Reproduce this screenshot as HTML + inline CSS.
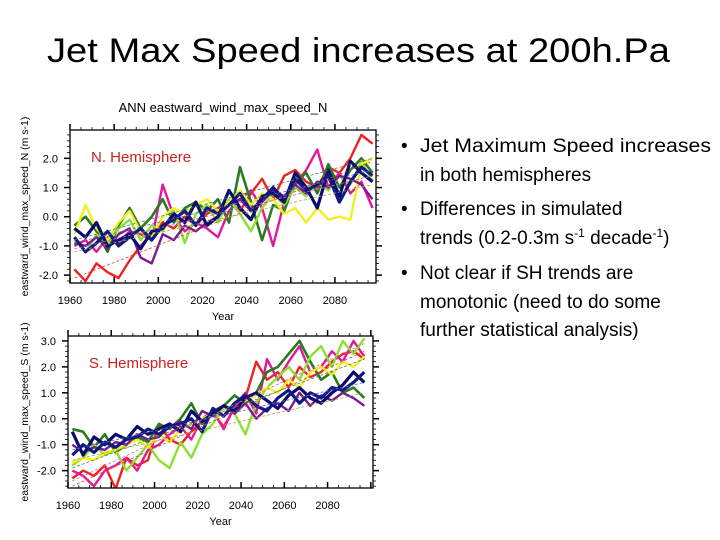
<!DOCTYPE html>
<html><head><meta charset="utf-8"><style>
html,body{margin:0;padding:0;background:#fff;}
svg{display:block;font-family:"Liberation Sans",sans-serif;}
</style></head><body>
<svg id="s" width="720" height="540" viewBox="0 0 720 540">
<text x="47" y="62" font-size="34" textLength="623" lengthAdjust="spacingAndGlyphs">Jet Max Speed increases at 200h.Pa</text>
<text x="223" y="112" font-size="13" text-anchor="middle">ANN eastward_wind_max_speed_N</text>
<g font-size="19" fill="#000">
<text x="401" y="152">•</text>
<text x="420" y="152" textLength="291" lengthAdjust="spacingAndGlyphs">Jet Maximum Speed increases</text>
<text x="420" y="181">in both hemispheres</text>
<text x="401" y="215">•</text>
<text x="420" y="215">Differences in simulated</text>
<text x="420" y="244">trends (0.2-0.3m s<tspan font-size="12" dy="-7">-1</tspan><tspan dy="7"> decade</tspan><tspan font-size="12" dy="-7">-1</tspan><tspan dy="7">)</tspan></text>
<text x="401" y="279">•</text>
<text x="420" y="279">Not clear if SH trends are</text>
<text x="420" y="308">monotonic (need to do some</text>
<text x="420" y="336">further statistical analysis)</text>
</g>
</svg>
<script>
const years=[1962,1967,1972,1977,1982,1987,1992,1997,2002,2007,2012,2017,2022,2027,2032,2037,2042,2047,2052,2057,2062,2067,2072,2077,2082,2087,2092,2097];
const nRed=[-1.8,-2.2,-1.6,-1.9,-2.1,-1.5,-1.0,-0.6,-0.2,-0.4,0.0,-0.3,0.1,0.3,0.5,0.2,0.8,1.3,0.6,1.4,1.6,1.2,1.0,1.7,1.5,2.0,2.8,2.5];
const nMagenta=[-1.0,-0.8,-1.2,-0.7,-0.9,-0.5,-0.6,-0.8,1.1,0.0,-0.5,-0.2,-0.4,-0.7,0.2,0.6,0.9,0.3,-1.0,0.5,1.1,1.6,2.3,1.0,1.5,0.8,1.2,0.3];
const nDarkGreen=[-0.3,0.0,-0.5,-1.2,-0.3,0.3,-0.4,0.0,0.6,-0.2,0.3,0.5,0.2,0.6,-0.2,1.7,0.5,-0.8,0.4,0.2,1.2,1.5,0.8,1.8,1.0,1.6,2.0,1.5];
const nLime=[-0.8,-1.2,-0.6,-0.9,-0.4,-0.1,-0.8,-0.3,-0.5,0.2,-0.9,0.1,0.4,-0.2,0.6,0.1,-0.5,0.3,0.8,0.4,1.0,0.7,1.2,0.9,1.4,1.1,1.9,1.2];
const nYellow=[-0.6,0.4,-0.4,-0.8,-0.2,0.2,-0.5,-0.7,0.0,0.3,0.1,0.4,0.6,0.2,0.5,0.9,0.4,0.8,0.6,0.1,0.3,-0.2,0.3,-0.1,0.0,-0.1,1.8,2.0];
const nPurple=[-0.9,-1.0,-0.7,-1.1,-0.6,-0.4,-1.4,-1.6,-0.6,-0.8,-0.3,-0.5,-0.2,0.0,0.4,0.6,0.2,0.5,0.9,0.7,1.1,0.8,1.2,1.0,1.4,1.3,1.1,0.6];
const nNavy=[-0.4,-0.7,-0.2,-1.0,-0.8,-0.6,-1.1,-0.5,-0.4,0.1,-0.2,0.5,-0.3,0.0,0.9,0.3,-0.1,0.7,0.8,0.5,1.5,1.0,0.3,1.6,0.7,1.9,1.5,1.2];
const nNavy2=[-0.7,-1.2,-0.9,-0.5,-1.0,-0.7,-0.4,-0.8,-0.3,-0.1,0.2,-0.3,0.3,0.1,0.4,0.8,0.2,0.6,1.0,0.6,1.3,0.9,1.1,1.4,0.5,1.2,1.7,1.4];
const nTrendStart=[-2.1,-1.1,-0.8,-1.2,-0.9];
const nTrendEnd=[1.9,1.4,2.0,1.1,1.6];
const sRed=[-2.3,-2.0,-2.2,-1.8,-2.7,-1.5,-1.8,-1.6,-0.2,-0.8,-1.0,-0.5,-0.1,0.2,-0.3,0.4,0.8,2.2,1.5,1.8,1.2,2.0,1.6,1.8,2.2,2.5,2.6,2.3];
const sMagenta=[-2.0,-2.2,-2.6,-2.0,-1.8,-1.5,-2.0,-1.2,-1.0,-0.6,-0.3,-0.8,0.0,0.3,-0.4,0.5,1.0,0.2,2.3,1.5,2.2,2.8,1.8,2.0,2.6,2.2,3.0,2.4];
const sDarkGreen=[-0.4,-0.5,-1.1,-0.6,-1.3,-1.0,-0.7,-0.9,-0.2,-0.4,0.0,0.6,-0.2,0.3,0.5,0.9,0.6,1.0,1.8,2.0,2.5,3.0,2.2,1.5,1.8,1.0,1.2,0.8];
const sLime=[-1.8,-1.5,-1.0,-1.4,-1.2,-2.0,-1.5,-1.0,-1.6,-1.9,-0.9,-1.5,-0.6,-0.2,0.5,0.2,-0.6,0.6,1.2,1.6,2.0,1.5,2.4,2.8,2.0,3.0,2.5,3.1];
const sYellow=[-1.7,-1.5,-1.6,-1.3,-1.2,-1.0,-0.8,-1.1,-0.6,-0.9,-0.4,-0.2,0.0,0.2,0.4,0.3,0.7,0.9,1.2,1.0,1.5,1.2,1.8,2.0,1.7,2.2,2.0,2.4];
const sPurple=[-1.0,-1.3,-1.1,-1.2,-0.9,-1.0,-0.6,-0.8,-0.7,-0.3,-0.1,-0.4,0.3,0.1,0.5,0.2,0.6,0.0,0.4,0.6,0.3,1.0,0.5,0.9,0.7,1.0,0.8,0.5];
const sNavy=[-0.5,-1.4,-0.7,-1.0,-0.6,-0.8,-0.3,-0.6,-0.4,-0.2,-0.5,0.3,-0.1,0.2,0.5,0.3,0.8,1.0,0.7,0.4,0.9,1.2,0.8,0.6,1.0,1.3,1.8,1.4];
const sNavy2=[-1.4,-1.0,-1.3,-0.9,-1.1,-0.8,-0.7,-0.4,-0.6,-0.3,-0.2,0.0,-0.5,0.4,0.1,0.6,0.9,0.5,0.3,0.8,1.1,0.6,1.0,0.8,1.2,1.1,1.4,1.8];
const sTrendStart=[-2.6,-2.4,-1.9,-1.6,-1.2];
const sTrendEnd=[2.6,2.9,2.3,1.0,1.4];
const xTickYears=[1960,1980,2000,2020,2040,2060,2080];
const yTicksN=[-2,-1,0,1,2];
const yTicksS=[-2,-1,0,1,2,3];

const NS='http://www.w3.org/2000/svg';
const svg=document.getElementById('s');
function el(t,a,p){const e=document.createElementNS(NS,t);for(const k in a)e.setAttribute(k,a[k]);(p||svg).appendChild(e);return e;}
const colors=['#ee2222','#e0189a','#2a7a20','#8ee030','#f0f020','#7a1a90','#0a0a70','#101a80'];
const widths=[2.4,2.4,2.6,2.4,2.4,2.4,3.2,3.2];
const trendColors=['#dd4444','#cc66aa','#448844','#aaaa44','#6666aa'];

function chart(cfg){
  const g=el('g',{});
  
  
  const X=y=>cfg.x0+(y-cfg.xmin)/(cfg.xmax-cfg.xmin)*(cfg.x1-cfg.x0);
  const Y=v=>cfg.y1-(v-cfg.ymin)/(cfg.ymax-cfg.ymin)*(cfg.y1-cfg.y0);
  const clip='c'+cfg.name;
  const cp=el('clipPath',{id:clip},g);el('rect',{x:cfg.x0,y:cfg.y0,width:cfg.x1-cfg.x0,height:cfg.y1-cfg.y0},cp);
  const pg=el('g',{'clip-path':'url(#'+clip+')'},g);
  cfg.series.forEach((s,i)=>{
    const d=s.map((v,j)=>(j?'L':'M')+X(years[j]).toFixed(1)+' '+Y(v).toFixed(1)).join('');
    const p=el('path',{d:d,fill:'none',stroke:colors[i],'stroke-width':widths[i],'stroke-linejoin':'round'},pg);
    
    
  });
  cfg.ts.forEach((a,i)=>{
    const l=el('line',{x1:X(1962),y1:Y(a),x2:X(2097),y2:Y(cfg.te[i]),stroke:trendColors[i],'stroke-width':0.8,'stroke-dasharray':'3 2'},pg);
    
    
  });
  const f=el('rect',{x:cfg.x0,y:cfg.y0,width:cfg.x1-cfg.x0,height:cfg.y1-cfg.y0,fill:'none',stroke:'#000','stroke-width':1.3},g);
  
  
  for(let yr=1960;yr<=cfg.xmax;yr+=5){
    const maj=yr%20===0,L=maj?6:3,x=X(yr);
    el('line',{x1:x,y1:cfg.y1,x2:x,y2:cfg.y1-L,stroke:'#000','stroke-width':maj?1.5:0.8},g);
    el('line',{x1:x,y1:cfg.y0,x2:x,y2:cfg.y0-L,stroke:'#000','stroke-width':maj?1.5:0.8},g);
  }
  xTickYears.forEach(yr=>{
    const t=el('text',{x:X(yr),y:cfg.y1+21,'font-size':11,'text-anchor':'middle'},g);t.textContent=yr;
    
    
  });
  for(let v=Math.ceil(cfg.ymin*5)/5;v<=cfg.ymax;v+=0.2){
    const vv=Math.round(v*5)/5,maj=Math.abs(vv-Math.round(vv))<1e-6,L=maj?6:3;
    el('line',{x1:cfg.x0,y1:Y(vv),x2:cfg.x0-L,y2:Y(vv),stroke:'#000','stroke-width':maj?1.5:0.8},g);
    el('line',{x1:cfg.x1,y1:Y(vv),x2:cfg.x1+L,y2:Y(vv),stroke:'#000','stroke-width':maj?1.5:0.8},g);
  }
  cfg.yt.forEach(v=>{
    const t=el('text',{x:cfg.x0-12,y:Y(v)+4,'font-size':11,'text-anchor':'end'},g);t.textContent=v.toFixed(1);
    
    
  });
  const xl=el('text',{x:(cfg.x0+cfg.x1)/2,y:cfg.y1+37,'font-size':11,'text-anchor':'middle'},g);xl.textContent='Year';
  
  
  const cy=(cfg.y0+cfg.y1)/2;
  const yl=el('text',{x:28,y:cy,'font-size':10.5,'text-anchor':'middle',transform:'rotate(-90 28 '+cy+')'},g);yl.textContent=cfg.ylab;
  
  
  const hl=el('text',{x:cfg.x0+21,y:cfg.hy,'font-size':15,fill:'#cc2222'},g);hl.textContent=cfg.label;
  
  
}
chart({name:'north-chart',x0:70,x1:376,y0:130,y1:283,xmin:1960,xmax:2098.6,ymin:-2.27,ymax:2.97,yt:yTicksN,
  series:[nRed,nMagenta,nDarkGreen,nLime,nYellow,nPurple,nNavy,nNavy2],ts:nTrendStart,te:nTrendEnd,
  ylab:'eastward_wind_max_speed_N (m s-1)',label:'N. Hemisphere',hy:162});
chart({name:'south-chart',x0:68,x1:373,y0:336,y1:488,xmin:1960,xmax:2101,ymin:-2.67,ymax:3.19,yt:yTicksS,
  series:[sRed,sMagenta,sDarkGreen,sLime,sYellow,sPurple,sNavy,sNavy2],ts:sTrendStart,te:sTrendEnd,
  ylab:'eastward_wind_max_speed_S (m s-1)',label:'S. Hemisphere',hy:368});
</script>
</body></html>
